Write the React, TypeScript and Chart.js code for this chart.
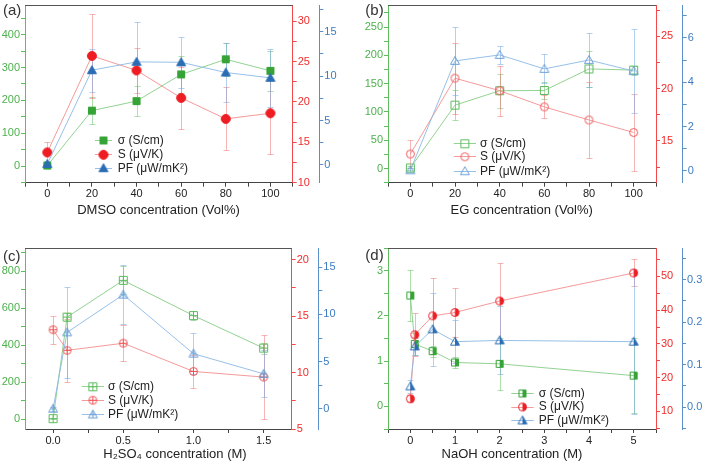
import React, { useEffect, useRef } from 'react';
import { Chart, registerables } from 'chart.js';

Chart.register(...registerables);

const FONT = "'Liberation Sans', Arial, sans-serif";

// ---------------- Data ----------------
// (a) DMSO
const aX = [0, 20, 40, 60, 80, 100];
const aSigma = [2, 169, 198, 279, 325, 290];
const aSigmaErr = [3, 42, 45, 57, 50, 60];
const aS = [13.75, 25.7, 23.9, 20.5, 17.9, 18.6];
const aSErr = [1.3, 5.2, 2.8, 3.8, 3.9, 5.0];
const aPF = [0.1, 10.66, 11.6, 11.55, 10.4, 9.8];
const aPFErr = [0.3, 2.4, 4.5, 2.9, 3.3, 3.3];

// (b) EG
const bX = [0, 20, 40, 60, 80, 100];
const bSigma = [1, 112, 137.5, 138, 176, 174];
const bSigmaErr = [3, 27, 30, 15, 32, 8];
const bS = [13.74, 21.0, 19.8, 18.25, 17.0, 15.8];
const bSErr = [1.3, 3.4, 2.4, 1.1, 3.6, 3.7];
const bPF = [0.03, 4.96, 5.23, 4.6, 5.0, 4.5];
const bPFErr = [0.1, 1.55, 0.4, 0.65, 1.2, 1.9];

// (c) H2SO4
const cX = [0, 0.1, 0.5, 1.0, 1.5];
const cSigma = [2, 552, 751, 560, 384];
const cSigmaErr = [3, 20, 75, 25, 30];
const cS = [13.8, 11.97, 12.6, 10.1, 9.6];
const cSErr = [1.25, 2.8, 1.6, 1.5, 3.7];
const cPF = [0, 8.1, 12.1, 5.84, 3.7];
const cPFErr = [0.2, 4.8, 3.1, 2.2, 2.5];

// (d) NaOH
const dX = [0, 0.1, 0.5, 1, 2, 5];
const dSigma = [2.45, 1.38, 1.22, 0.97, 0.94, 0.68];
const dSigmaErr = [0.56, 0.25, 0.12, 0.12, 0.58, 0.83];
const dS = [13.75, 32.7, 38.3, 39.3, 42.7, 51.0];
const dSErr = [1.0, 6.4, 11.2, 7.2, 11.4, 4.0];
const dPF = [0.049, 0.143, 0.183, 0.154, 0.157, 0.154];
const dPFErr = [0.015, 0.02, 0.086, 0.05, 0.08, 0.17];

// Tick labels (major ticks)
const aXTicks = [0, 20, 40, 60, 80, 100];
const aGTicks = [0, 100, 200, 300, 400];
const aRTicks = [10, 15, 20, 25, 30];
const aBTicks = [0, 5, 10, 15];

const bXTicks = [0, 20, 40, 60, 80, 100];
const bGTicks = [0, 50, 100, 150, 200, 250];
const bRTicks = [15, 20, 25];
const bBTicks = [0, 2, 4, 6];

const cXTicks = [0, 0.5, 1.0, 1.5];
const cGTicks = [0, 200, 400, 600, 800];
const cRTicks = [5, 10, 15, 20];
const cBTicks = [0, 5, 10, 15];

const dXTicks = [0, 1, 2, 3, 4, 5];
const dGTicks = [0, 1, 2, 3];
const dRTicks = [10, 20, 30, 40, 50];
const dBTicks = [0, 0.1, 0.2, 0.3];

const seriesNames = ['σ (S/cm)', 'S (μV/K)', 'PF (μW/mK²)'];
const panelLabels = ['(a)', '(b)', '(c)', '(d)'];
const xTitles = ['DMSO concentration (Vol%)', 'EG concentration (Vol%)', 'H₂SO₄ concentration (M)', 'NaOH concentration (M)'];

// ---------------- Styles ----------------
const COLORS: any = {
  g: { axis: '#5cbf5c', text: '#4cb04c', marker: '#36a336', open: '#5cbc5c', line: 'rgba(110,195,110,0.75)', err: 'rgba(110,195,110,0.55)' },
  r: { axis: '#f24a4a', text: '#f02c2c', marker: '#ee1d23', open: '#f05656', line: 'rgba(242,120,120,0.75)', err: 'rgba(240,110,110,0.5)' },
  b: { axis: '#5a8fc8', text: '#3d7cc0', marker: '#2b6db3', open: '#6a9fd6', line: 'rgba(140,185,230,0.9)', err: 'rgba(120,170,225,0.55)' },
};

function makeMarker(shape: string, colorKey: string, style: string, size: number) {
  const col = COLORS[colorKey];
  const color = style === 'solid' || style === 'half' ? col.marker : col.open;
  const S = Math.ceil(size + 3);
  const c = document.createElement('canvas');
  c.width = S;
  c.height = S;
  const g = c.getContext('2d') as CanvasRenderingContext2D;
  const cx = S / 2, cy = S / 2, r = size / 2;
  const path = () => {
    g.beginPath();
    if (shape === 'square') g.rect(cx - r, cy - r, 2 * r, 2 * r);
    else if (shape === 'circle') g.arc(cx, cy, r, 0, Math.PI * 2);
    else {
      g.moveTo(cx, cy - r);
      g.lineTo(cx + r, cy + r * 0.75);
      g.lineTo(cx - r, cy + r * 0.75);
      g.closePath();
    }
  };
  g.lineWidth = 1;
  g.strokeStyle = color;
  g.fillStyle = color;
  if (style === 'solid') {
    path();
    g.fill();
    path();
    g.stroke();
  } else if (style === 'open') {
    path();
    g.stroke();
  } else if (style === 'cross') {
    path();
    g.stroke();
    g.save();
    path();
    g.clip();
    g.beginPath();
    g.moveTo(cx - r, cy);
    g.lineTo(cx + r, cy);
    g.moveTo(cx, cy - r);
    g.lineTo(cx, cy + r);
    g.stroke();
    g.restore();
  } else {
    g.save();
    g.beginPath();
    g.rect(cx, 0, S, S);
    g.clip();
    path();
    g.fill();
    g.restore();
    path();
    g.stroke();
  }
  return c;
}

function tickList(ax: any) {
  const m = ax.ticks;
  const step = m[1] - m[0];
  const out: number[] = [];
  for (let k = -2; k <= (m.length + 1) * 2; k++) {
    const v = Math.round((m[0] + (k * step) / 2) * 1e6) / 1e6;
    if (v >= ax.min - 1e-9 && v <= ax.max + 1e-9) out.push(v);
  }
  return out;
}

function isMajor(ax: any, v: number) {
  return ax.ticks.some((t: number) => Math.abs(t - v) < 1e-6);
}

function yScale(ax: any, position: string, colorKey: string, width: number) {
  const col = COLORS[colorKey];
  return {
    type: 'linear',
    position,
    min: ax.min,
    max: ax.max,
    afterBuildTicks: (s: any) => {
      s.ticks = tickList(ax).map((v) => ({ value: v }));
    },
    afterFit: (s: any) => {
      s.width = width;
      s.paddingTop = 0;
      s.paddingBottom = 0;
    },
    ticks: {
      autoSkip: false,
      color: col.text,
      padding: 1,
      font: { family: FONT, size: 11 },
      callback: (v: number) => (isMajor(ax, v) ? v.toFixed(ax.dec) : ''),
    },
    grid: { drawOnChartArea: false, drawTicks: true, tickLength: 4, color: col.axis, tickColor: col.axis },
    border: { display: true, color: col.axis, width: 1 },
  };
}

function buildConfig(def: any) {
  const shapes = ['square', 'circle', 'triangle'];
  const keys = ['g', 'r', 'b'];
  const markers = shapes.map((sh, i) => makeMarker(sh, keys[i], def.style, def.msize[i]));
  const area = def.area;
  const datasets = def.series
    .map((s: any, i: number) => ({
      type: 'line',
      label: seriesNames[i],
      data: def.xs.map((x: number, j: number) => ({ x, y: s.vals[j] })),
      yAxisID: s.axis,
      borderColor: COLORS[keys[i]].line,
      backgroundColor: COLORS[keys[i]].marker,
      borderWidth: 1,
      pointStyle: markers[i],
      pointRadius: 4,
      fill: false,
      tension: 0,
      clip: false,
    }))
    .reverse();

  const plugin = {
    id: 'panelExtras' + def.key,
    beforeDatasetsDraw(chart: any) {
      const ctx = chart.ctx;
      const xs = chart.scales.x;
      const a = chart.chartArea;
      ctx.save();
      ctx.beginPath();
      ctx.rect(a.left, a.top - 2, a.right - a.left, a.bottom - a.top + 4);
      ctx.clip();
      def.series.forEach((s: any, i: number) => {
        const ys = chart.scales[s.axis];
        ctx.strokeStyle = COLORS[keys[i]].err;
        ctx.lineWidth = 1;
        def.xs.forEach((xv: number, j: number) => {
          const e = s.errs[j];
          const v = s.vals[j];
          const px = Math.round(xs.getPixelForValue(xv)) + 0.5;
          const yt = Math.round(ys.getPixelForValue(v + e)) + 0.5;
          const yb = Math.round(ys.getPixelForValue(v - e)) + 0.5;
          ctx.beginPath();
          ctx.moveTo(px, yt);
          ctx.lineTo(px, yb);
          ctx.moveTo(px - 3, yt);
          ctx.lineTo(px + 3, yt);
          ctx.moveTo(px - 3, yb);
          ctx.lineTo(px + 3, yb);
          ctx.stroke();
        });
      });
      ctx.restore();
    },
    afterDraw(chart: any) {
      const ctx = chart.ctx;
      const a = chart.chartArea;
      ctx.save();
      // top frame
      ctx.strokeStyle = '#555';
      ctx.lineWidth = 1;
      ctx.beginPath();
      ctx.moveTo(a.left, Math.round(a.top) + 0.5);
      ctx.lineTo(a.right, Math.round(a.top) + 0.5);
      ctx.stroke();
      // legend
      const lg = def.legend;
      def.series.forEach((s: any, i: number) => {
        const y = lg.ys[i];
        ctx.strokeStyle = COLORS[keys[i]].line;
        ctx.beginPath();
        ctx.moveTo(lg.x1, Math.round(y) + 0.5);
        ctx.lineTo(lg.x2, Math.round(y) + 0.5);
        ctx.stroke();
        const m = markers[i];
        ctx.drawImage(m, (lg.x1 + lg.x2) / 2 - m.width / 2, y - m.height / 2 + 0.5);
        ctx.fillStyle = '#222';
        ctx.font = '12px ' + FONT;
        ctx.textBaseline = 'middle';
        ctx.textAlign = 'left';
        ctx.fillText(seriesNames[i], lg.tx, y + 0.5);
      });
      // panel label
      ctx.fillStyle = '#333';
      ctx.font = '15px ' + FONT;
      ctx.textBaseline = 'middle';
      ctx.textAlign = 'left';
      ctx.fillText(panelLabels[def.key], def.labelPos[0], def.labelPos[1]);
      // x title
      ctx.fillStyle = '#222';
      ctx.font = '13px ' + FONT;
      ctx.textAlign = 'center';
      ctx.fillText(xTitles[def.key], def.titlePos[0], def.titlePos[1]);
      ctx.restore();
    },
  };

  return {
    type: 'line',
    data: { datasets },
    options: {
      responsive: false,
      animation: false,
      devicePixelRatio: 1,
      layout: { padding: { top: area.top, left: 0, right: 0, bottom: 0 } },
      plugins: { legend: { display: false }, tooltip: { enabled: false } },
      scales: {
        x: {
          type: 'linear',
          position: 'bottom',
          min: def.xAx.min,
          max: def.xAx.max,
          afterBuildTicks: (s: any) => {
            s.ticks = tickList(def.xAx).map((v) => ({ value: v }));
          },
          afterFit: (s: any) => {
            s.height = def.height - area.bottom;
            s.paddingLeft = 0;
            s.paddingRight = 0;
          },
          ticks: {
            autoSkip: false,
            maxRotation: 0,
            color: '#222',
            padding: 1,
            font: { family: FONT, size: 11 },
            callback: (v: number) => (isMajor(def.xAx, v) ? v.toFixed(def.xAx.dec) : ''),
          },
          grid: { drawOnChartArea: false, drawTicks: true, tickLength: 4, color: '#444', tickColor: '#444' },
          border: { display: true, color: '#444', width: 1 },
        },
        yG: yScale(def.gAx, 'left', 'g', area.left),
        yR: yScale(def.rAx, 'right', 'r', def.blueX - area.right),
        yB: yScale(def.bAx, 'right', 'b', def.width - def.blueX),
      },
    },
    plugins: [plugin],
  };
}

const panels = [
  {
    key: 0, left: 0, top: 0, width: 352, height: 233,
    area: { left: 25, right: 292.7, top: 2.7, bottom: 182.7 }, blueX: 319.3,
    style: 'solid', msize: [7, 9, 9],
    xs: aX,
    series: [
      { vals: aSigma, errs: aSigmaErr, axis: 'yG' },
      { vals: aS, errs: aSErr, axis: 'yR' },
      { vals: aPF, errs: aPFErr, axis: 'yB' },
    ],
    xAx: { min: -10, max: 110, ticks: aXTicks, dec: 0 },
    gAx: { min: -50, max: 490, ticks: aGTicks, dec: 0 },
    rAx: { min: 10, max: 32, ticks: aRTicks, dec: 0 },
    bAx: { min: -2, max: 18, ticks: aBTicks, dec: 0 },
    legend: { x1: 95, x2: 112, tx: 117.7, ys: [140, 154.3, 167.7] },
    labelPos: [3, 10.8], titlePos: [158.5, 210.7],
  },
  {
    key: 1, left: 352, top: 0, width: 353, height: 233,
    area: { left: 36, right: 304, top: 2.7, bottom: 182.7 }, blueX: 330.7,
    style: 'open', msize: [8, 8, 9],
    xs: bX,
    series: [
      { vals: bSigma, errs: bSigmaErr, axis: 'yG' },
      { vals: bS, errs: bSErr, axis: 'yR' },
      { vals: bPF, errs: bPFErr, axis: 'yB' },
    ],
    xAx: { min: -10, max: 110, ticks: bXTicks, dec: 0 },
    gAx: { min: -25, max: 289, ticks: bGTicks, dec: 0 },
    rAx: { min: 11, max: 28, ticks: bRTicks, dec: 0 },
    bAx: { min: -0.53, max: 7.48, ticks: bBTicks, dec: 0 },
    legend: { x1: 101.7, x2: 124, tx: 128, ys: [143.3, 156.3, 170.7] },
    labelPos: [13.3, 10.8], titlePos: [169.7, 210.7],
  },
  {
    key: 2, left: 0, top: 233, width: 352, height: 233,
    area: { left: 25, right: 291.7, top: 15, bottom: 196 }, blueX: 318.3,
    style: 'cross', msize: [8, 8, 9],
    xs: cX,
    series: [
      { vals: cSigma, errs: cSigmaErr, axis: 'yG' },
      { vals: cS, errs: cSErr, axis: 'yR' },
      { vals: cPF, errs: cPFErr, axis: 'yB' },
    ],
    xAx: { min: -0.2, max: 1.7, ticks: cXTicks, dec: 1 },
    gAx: { min: -54, max: 926, ticks: cGTicks, dec: 0 },
    rAx: { min: 5, max: 21.04, ticks: cRTicks, dec: 0 },
    bAx: { min: -2.15, max: 17.05, ticks: cBTicks, dec: 0 },
    legend: { x1: 81.7, x2: 104, tx: 108, ys: [153.3, 166.7, 181] },
    labelPos: [3, 24], titlePos: [175, 221.7],
  },
  {
    key: 3, left: 352, top: 233, width: 353, height: 233,
    area: { left: 36, right: 304, top: 15, bottom: 196 }, blueX: 330,
    style: 'half', msize: [7, 8, 9],
    xs: dX,
    series: [
      { vals: dSigma, errs: dSigmaErr, axis: 'yG' },
      { vals: dS, errs: dSErr, axis: 'yR' },
      { vals: dPF, errs: dPFErr, axis: 'yB' },
    ],
    xAx: { min: -0.5, max: 5.5, ticks: dXTicks, dec: 0 },
    gAx: { min: -0.5, max: 3.5, ticks: dGTicks, dec: 0 },
    rAx: { min: 4.8, max: 58.4, ticks: dRTicks, dec: 0 },
    bAx: { min: -0.051, max: 0.374, ticks: dBTicks, dec: 1 },
    legend: { x1: 159.3, x2: 181.7, tx: 186.7, ys: [160, 173.5, 187] },
    labelPos: [13.3, 23], titlePos: [160, 221.7],
  },
];

function Panel({ def }: { def: any }) {
  const ref = useRef<HTMLCanvasElement | null>(null);
  useEffect(() => {
    const chart = new Chart(ref.current as HTMLCanvasElement, buildConfig(def) as any);
    return () => chart.destroy();
  }, [def]);
  return (
    <canvas
      ref={ref}
      width={def.width}
      height={def.height}
      style={{ position: 'absolute', left: def.left, top: def.top, width: def.width, height: def.height }}
    />
  );
}

export default function App() {
  return (
    <div style={{ position: 'fixed', left: 0, top: 0, width: 705, height: 466, background: '#fff', overflow: 'hidden' }}>
      {panels.map((p) => (
        <Panel key={p.key} def={p} />
      ))}
    </div>
  );
}
